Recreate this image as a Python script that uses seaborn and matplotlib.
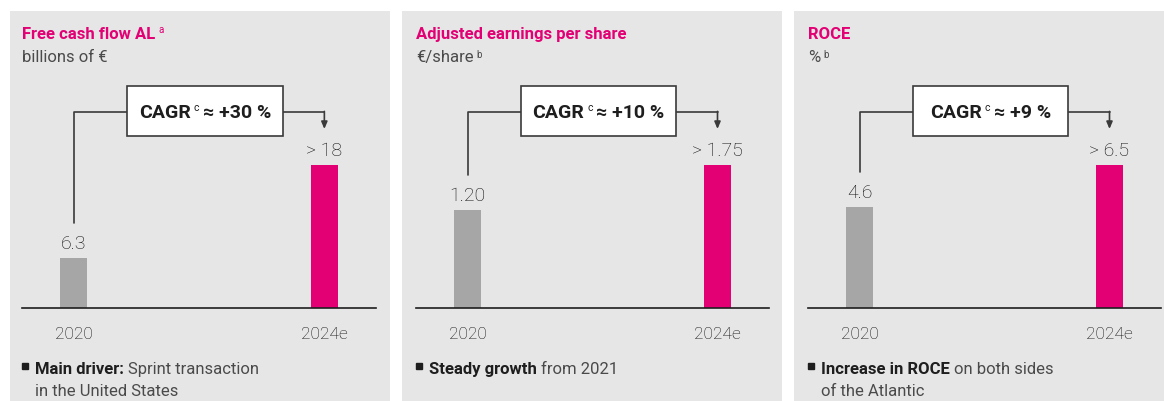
import matplotlib
matplotlib.use("Agg")
import matplotlib.pyplot as plt
import seaborn as sns
from matplotlib.patches import Rectangle

sns.set_theme(style="white")
plt.rcParams["font.family"] = ["Roboto", "DejaVu Sans"]

# canvas size in pixels (dpi 100)
W, H = 1164, 401
MAGENTA = "#e20074"
BAR_GRAY = "#a6a6a6"
PANEL_BG = "#e6e6e6"
DARK = "#1e1e1e"
MID = "#4a4a4a"
VAL = "#0c0c0c"
LINE = "#3a3a3a"

# data
years = ["2020", "2024e"]
titles = ["Free cash flow AL", "Adjusted earnings per share", "ROCE"]
title_notes = ["a", "", ""]
units = ["billions of €", "€/share", "%"]
unit_notes = ["", "b", "b"]
fcf_values = [6.3, 18.0]
eps_values = [1.20, 1.75]
roce_values = [4.6, 6.5]
fcf_labels = ["6.3", "> 18"]
eps_labels = ["1.20", "> 1.75"]
roce_labels = ["4.6", "> 6.5"]
cagr_values = ["+30 %", "+10 %", "+9 %"]
bullet_bold = ["Main driver:", "Steady growth", "Increase in ROCE"]
bullet_rest = [["Sprint transaction", "in the United States"],
               ["from 2021"],
               ["on both sides", "of the Atlantic"]]

# layout (pixels)
panels = [(10, 390), (402, 782), (794, 1164)]
spans = [(22, 376), (416, 769), (808, 1161)]
BASE_Y = 308      # baseline of bars
BAR_PX = 143      # height of the 2024e bar
CONN_Y = 112
BOX_TOP, BOX_W, BOX_H = 86, 155, 50


fig = plt.figure(figsize=(W / 100, H / 100), dpi=100)
fig.patch.set_facecolor("white")
bg = fig.add_axes([0, 0, 1, 1])
bg.set_xlim(0, W)
bg.set_ylim(H, 0)
bg.axis("off")

for (pl, pr) in panels:
    bg.add_patch(Rectangle((pl, 11), pr - pl, H - 11, facecolor=PANEL_BG, edgecolor="none"))


def to_bg(ax, x, y):
    disp = ax.transData.transform((x, y))
    return bg.transData.inverted().transform(disp)


def draw_panel(i, values, labels):
    left, right = spans[i]
    ax = fig.add_axes([left / W, (H - BASE_Y) / H, (right - left) / W, BAR_PX / H])
    ax.set_facecolor("none")
    sns.barplot(x=years, y=values, hue=years, palette=[BAR_GRAY, MAGENTA],
                width=0.108, saturation=1, legend=False, linewidth=0,
                edgecolor="none", ax=ax)
    ax.set_xlim(-0.206, 1.206)
    ax.set_ylim(0, values[1])
    for s in ["left", "top", "right"]:
        ax.spines[s].set_visible(False)
    ax.spines["bottom"].set_color(DARK)
    ax.spines["bottom"].set_linewidth(1.2)
    ax.set_yticks([])
    ax.set_xlabel("")
    ax.set_ylabel("")
    ax.tick_params(axis="x", length=0, pad=13.5, labelsize=12.5, labelcolor=VAL)
    for tl in ax.get_xticklabels():
        tl.set_fontweight("light")

    for j, (v, lab) in enumerate(zip(values, labels)):
        ax.annotate(lab, xy=(j, v), xytext=(0, 9), textcoords="offset pixels",
                    ha="center", va="baseline", fontsize=14, color=VAL,
                    fontweight="light", annotation_clip=False)

    # title + unit
    tt = bg.text(left, 39, titles[i], color=MAGENTA, fontweight="bold",
                 fontsize=12, va="baseline", ha="left")
    if title_notes[i]:
        bg.annotate(title_notes[i], xy=(1, 1), xycoords=tt, xytext=(3, 2),
                    textcoords="offset pixels", va="top", ha="left",
                    fontsize=7, color=MAGENTA)
    ut = bg.text(left, 62, units[i], color=MID, fontsize=12, va="baseline", ha="left")
    if unit_notes[i]:
        bg.annotate(unit_notes[i], xy=(1, 1), xycoords=ut, xytext=(3, 0),
                    textcoords="offset pixels", va="top", ha="left",
                    fontsize=7, color=MID)

    # CAGR connector
    x0, y0 = to_bg(ax, 0, values[0])
    x1, y1 = to_bg(ax, 1, values[1])
    box_cx = (x0 + x1) / 2 + 6
    box_l, box_r = box_cx - BOX_W / 2, box_cx + BOX_W / 2
    bg.plot([x0, x0, box_l], [y0 - 35, CONN_Y, CONN_Y], color=LINE, lw=1.2)
    bg.plot([box_r, x1], [CONN_Y, CONN_Y], color=LINE, lw=1.2)
    bg.annotate("", xy=(x1, y1 - 36), xytext=(x1, CONN_Y - 0.6),
                arrowprops=dict(arrowstyle="-|>,head_length=0.35,head_width=0.15",
                                color=LINE, lw=1.2, shrinkA=0, shrinkB=0))
    bg.add_patch(Rectangle((box_l, BOX_TOP), BOX_W, BOX_H, facecolor="white",
                           edgecolor=LINE, lw=1.2, zorder=3))
    c1 = bg.text(box_l, 118, "CAGR", fontsize=14, fontweight="bold", color=DARK,
                 ha="left", va="baseline", zorder=4)
    c2 = bg.annotate("c", xy=(1, 1), xycoords=c1, xytext=(3, 1),
                     textcoords="offset pixels", ha="left", va="top",
                     fontsize=7.5, color=DARK, zorder=4)
    c3 = bg.annotate("≈ " + cagr_values[i], xy=(1, 0), xycoords=(c2, c1),
                     xytext=(4, 0), textcoords="offset pixels", ha="left",
                     va="bottom", fontsize=14, fontweight="bold", color=DARK, zorder=4)

    # bullet
    bg.plot(left + 2.5, 366, marker="s", ms=4, color=DARK, lw=0)
    bb = bg.text(left + 13, 374, bullet_bold[i], fontsize=12, fontweight="bold",
                 color=DARK, ha="left", va="baseline")
    bg.annotate(bullet_rest[i][0], xy=(1, 0), xycoords=bb, xytext=(4, 0),
                textcoords="offset pixels", ha="left", va="bottom",
                fontsize=12, color=MID)
    if len(bullet_rest[i]) > 1:
        bg.text(left + 13, 396, bullet_rest[i][1], fontsize=12, color=MID,
                ha="left", va="baseline")
    return c1, c3, box_cx


cagr_texts = [draw_panel(0, fcf_values, fcf_labels),
              draw_panel(1, eps_values, eps_labels),
              draw_panel(2, roce_values, roce_labels)]

# center the CAGR labels inside their boxes
fig.canvas.draw()
for c1, c3, box_cx in cagr_texts:
    e1 = c1.get_window_extent()
    e3 = c3.get_window_extent()
    c1.set_x(box_cx - (e3.x1 - e1.x0) / 2)

fig.savefig("out.png", dpi=100)
